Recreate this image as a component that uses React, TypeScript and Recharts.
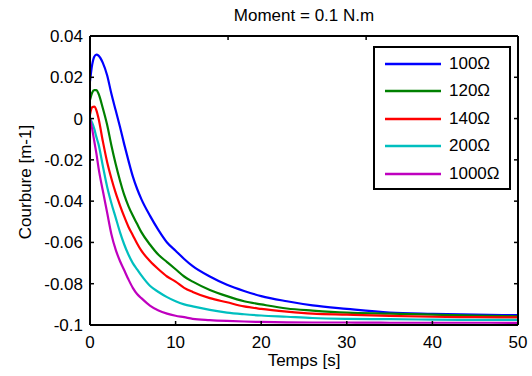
import { Legend, Line, LineChart, XAxis, YAxis } from "recharts";

// time axis (s)
const tSec = [0, 0.25, 0.5, 0.75, 1, 1.5, 2, 2.5, 3, 3.5, 4, 4.5, 5, 5.5, 6, 7, 8, 9, 10, 11, 12, 14, 16, 18, 20, 23, 26, 30, 35, 40, 45, 50];

const r100 = [0.018, 0.026, 0.03, 0.031, 0.0305, 0.027, 0.021, 0.012, 0.004, -0.004, -0.0125, -0.0205, -0.028, -0.034, -0.039, -0.047, -0.054, -0.06, -0.064, -0.068, -0.0715, -0.0765, -0.0805, -0.0835, -0.086, -0.0885, -0.0905, -0.0922, -0.094, -0.0946, -0.095, -0.0952];
const r120 = [0.009, 0.0125, 0.0138, 0.0138, 0.012, 0.005, -0.003, -0.013, -0.022, -0.03, -0.037, -0.0425, -0.047, -0.051, -0.055, -0.061, -0.066, -0.0695, -0.073, -0.0765, -0.079, -0.083, -0.086, -0.0885, -0.09, -0.092, -0.093, -0.094, -0.0945, -0.095, -0.0955, -0.0958];
const r140 = [0.002, 0.0055, 0.0058, 0.004, 0.0, -0.011, -0.021, -0.029, -0.036, -0.042, -0.0475, -0.0525, -0.0565, -0.0605, -0.064, -0.069, -0.073, -0.0765, -0.079, -0.082, -0.084, -0.087, -0.089, -0.091, -0.0922, -0.0935, -0.0945, -0.095, -0.0956, -0.096, -0.0962, -0.0963];
const r200 = [0.0, -0.002, -0.005, -0.009, -0.0125, -0.023, -0.033, -0.041, -0.048, -0.055, -0.061, -0.066, -0.07, -0.073, -0.076, -0.081, -0.084, -0.0865, -0.0885, -0.09, -0.091, -0.0927, -0.094, -0.0948, -0.0954, -0.096, -0.0966, -0.097, -0.0972, -0.0974, -0.0975, -0.0975];
const r1000 = [0.0, -0.005, -0.011, -0.017, -0.024, -0.035, -0.0455, -0.056, -0.0635, -0.069, -0.0735, -0.078, -0.082, -0.085, -0.087, -0.0906, -0.093, -0.0945, -0.0955, -0.0962, -0.097, -0.0976, -0.098, -0.0983, -0.0985, -0.0987, -0.0988, -0.0988, -0.0989, -0.0989, -0.0989, -0.099];

const seriesNames = ["100Ω", "120Ω", "140Ω", "200Ω", "1000Ω"];
const seriesColors = ["#0000ff", "#008000", "#ff0000", "#00bfbf", "#bf00bf"];
const seriesValues = [r100, r120, r140, r200, r1000];

const xTicks = [0, 10, 20, 30, 40, 50];
const yTicks = [-0.1, -0.08, -0.06, -0.04, -0.02, 0, 0.02, 0.04];

const data = tSec.map((t, i) => {
  const row: Record<string, number> = { t };
  seriesNames.forEach((name, k) => {
    row[name] = seriesValues[k][i];
  });
  return row;
});

const font = "'Liberation Sans', Arial, sans-serif";
const fmtY = (v: number) => String(Number(v.toFixed(2)));
const noLabel = () => <g />;

function LegendBox() {
  return (
    <div
      style={{
        boxSizing: "border-box",
        width: 138,
        height: 144,
        border: "2px solid #000",
        background: "#fff",
        paddingTop: 2,
        fontFamily: font,
        fontSize: 17,
        color: "#000",
      }}
    >
      {seriesNames.map((name, k) => (
        <div key={name} style={{ height: 27.5, display: "flex", alignItems: "center" }}>
          <svg width={64} height={4} style={{ marginLeft: 10 }}>
            <line x1={0} y1={2} x2={56} y2={2} stroke={seriesColors[k]} strokeWidth={2.5} />
          </svg>
          <span>{name}</span>
        </div>
      ))}
    </div>
  );
}

function YLabel() {
  return (
    <text
      x={31}
      y={182}
      transform="rotate(-90 31 182)"
      textAnchor="middle"
      fontSize={17}
      fontFamily={font}
      fill="#000"
    >
      Courbure [m-1]
    </text>
  );
}

export default function App() {
  const axisLine = { stroke: "#000", strokeWidth: 2 };
  const tickLine = { stroke: "#000", strokeWidth: 1.5 };
  const tickStyle = { fontSize: 17, fontFamily: font, fill: "#000" };
  const labelStyle = { fontSize: 17, fontFamily: font, fill: "#000" };
  return (
    <div style={{ position: "absolute", left: 0, top: 0, width: 532, height: 376, background: "#fff" }}>
      <LineChart width={532} height={376} data={data} margin={{ top: 35, right: 13, bottom: 0, left: 0 }}>
        <XAxis
          dataKey="t"
          type="number"
          domain={[0, 50]}
          ticks={xTicks}
          allowDataOverflow
          height={51}
          axisLine={axisLine}
          tickLine={tickLine}
          tickSize={-4}
          tickMargin={15}
          tick={tickStyle}
          label={{ value: "Temps [s]", position: "insideBottom", offset: 10, style: labelStyle }}
        />
        <XAxis
          xAxisId="top"
          orientation="top"
          type="number"
          domain={[0, 50]}
          ticks={xTicks}
          allowDataOverflow
          height={1}
          axisLine={axisLine}
          tickLine={tickLine}
          tickSize={-4}
          tick={noLabel}
          label={{ value: "Moment = 0.1 N.m", position: "top", offset: 14, style: labelStyle }}
        />
        <YAxis
          type="number"
          domain={[-0.1, 0.04]}
          ticks={yTicks}
          allowDataOverflow
          width={90}
          axisLine={axisLine}
          tickLine={tickLine}
          tickSize={-4}
          tickMargin={11}
          tick={tickStyle}
          tickFormatter={fmtY}
          label={{ content: () => <YLabel /> }}
        />
        <YAxis
          yAxisId="right"
          orientation="right"
          type="number"
          domain={[-0.1, 0.04]}
          ticks={yTicks}
          allowDataOverflow
          width={1}
          axisLine={axisLine}
          tickLine={tickLine}
          tickSize={-4}
          tick={noLabel}
        />
        {seriesNames.map((name, k) => (
          <Line
            key={name}
            type="monotone"
            dataKey={name}
            stroke={seriesColors[k]}
            strokeWidth={2.2}
            dot={false}
            isAnimationActive={false}
          />
        ))}
        <Legend
          layout="vertical"
          align="center"
          verticalAlign="middle"
          wrapperStyle={{ left: 373, top: 46, width: 138, height: 144 }}
          content={() => <LegendBox />}
        />
      </LineChart>
    </div>
  );
}
